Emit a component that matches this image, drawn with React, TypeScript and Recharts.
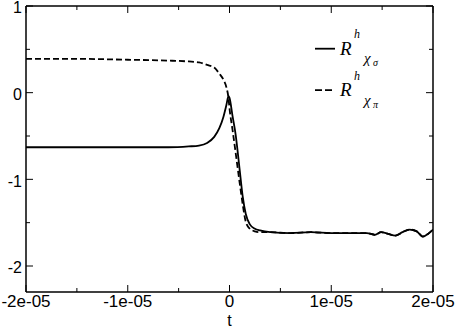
import React from "react";
import { LineChart, Line, XAxis, YAxis, Legend } from "recharts";

// time axis values (seconds)
const tValues = [
  -2e-5, -1.5e-5, -1e-5, -0.6e-5, -0.4e-5, -0.3e-5, -0.22e-5, -0.15e-5, -0.1e-5,
  -0.06e-5, -0.03e-5, -0.01e-5, 0, 0.03e-5, 0.06e-5, 0.1e-5, 0.13e-5, 0.16e-5,
  0.2e-5, 0.25e-5, 0.3e-5, 0.4e-5, 0.6e-5, 0.8e-5, 1e-5, 1.2e-5, 1.35e-5, 1.43e-5,
  1.49e-5, 1.56e-5, 1.63e-5, 1.7e-5, 1.77e-5, 1.84e-5, 1.9e-5, 1.95e-5, 2e-5,
];

// R^h chi_sigma (solid)
const chiSigma = [
  -0.63, -0.63, -0.63, -0.63, -0.62, -0.61, -0.58, -0.51, -0.41, -0.28, -0.14,
  -0.04, -0.06, -0.27, -0.48, -0.89, -1.2, -1.4, -1.52, -1.57, -1.59, -1.61, -1.62,
  -1.61, -1.62, -1.62, -1.62, -1.64, -1.61, -1.63, -1.65, -1.61, -1.58, -1.6,
  -1.66, -1.63, -1.58,
];

// R^h chi_pi (dashed)
const chiPi = [
  0.39, 0.39, 0.38, 0.37, 0.36, 0.35, 0.32, 0.29, 0.22, 0.15, 0.06, -0.06, -0.18,
  -0.43, -0.69, -1.04, -1.29, -1.49, -1.57, -1.6, -1.61, -1.61, -1.62, -1.61,
  -1.62, -1.62, -1.62, -1.64, -1.61, -1.63, -1.65, -1.61, -1.58, -1.6, -1.66,
  -1.63, -1.58,
];

const xTicks = [-2e-5, -1.5e-5, -1e-5, -0.5e-5, 0, 0.5e-5, 1e-5, 1.5e-5, 2e-5];
const yTicks = [-2, -1.5, -1, -0.5, 0, 0.5, 1];
const seriesKeys = ["sigma", "pi"];
const legendSubs = ["σ", "π"];

const data = tValues.map((t, i) => ({ t, sigma: chiSigma[i], pi: chiPi[i] }));

const isMajorX = (v: number) => Math.abs(v * 1e5 - Math.round(v * 1e5)) < 1e-6;
const isMajorY = (v: number) => Math.abs(v - Math.round(v)) < 1e-6;
const fmtX = (v: number) => (Math.abs(v) < 1e-12 ? "0" : `${Math.round(v * 1e5)}e-05`);

const font = "'Liberation Sans', Arial, Helvetica, sans-serif";
const serif = "'Liberation Serif', 'Times New Roman', serif";

function makeXTick(side: "bottom" | "top") {
  return (props: any) => {
    const { x, y, payload } = props;
    const major = isMajorX(payload.value);
    const len = major ? 7 : 4;
    const dir = side === "bottom" ? -1 : 1;
    return (
      <g>
        <line x1={x} x2={x} y1={y} y2={y + dir * len} stroke="#000" strokeWidth={1} />
        {side === "bottom" && major && (
          <text x={x} y={y + 15} textAnchor="middle" fontSize={17} fontFamily={font} fill="#000">
            {fmtX(payload.value)}
          </text>
        )}
      </g>
    );
  };
}

function makeYTick(side: "left" | "right") {
  return (props: any) => {
    const { x, y, payload } = props;
    const major = isMajorY(payload.value);
    const len = major ? 7 : 4;
    const dir = side === "left" ? 1 : -1;
    return (
      <g>
        <line x1={x} x2={x + dir * len} y1={y} y2={y} stroke="#000" strokeWidth={1} />
        {side === "left" && major && (
          <text x={x - 4} y={y} dy="0.45em" textAnchor="end" fontSize={16} fontFamily={font} fill="#000">
            {payload.value}
          </text>
        )}
      </g>
    );
  };
}

function renderLegend(props: any) {
  const payload = props.payload || [];
  return (
    <svg width={110} height={90}>
      {payload.map((entry: any) => {
        const i = Math.max(0, seriesKeys.indexOf(entry.dataKey));
        const oy = i * 41.5;
        const dash = entry.payload && entry.payload.strokeDasharray ? "7 3" : undefined;
        return (
          <g key={entry.dataKey} transform={`translate(0, ${oy})`}>
            <line x1={5} x2={25} y1={22.7} y2={22.7} stroke="#000" strokeWidth={1.8} strokeDasharray={dash} />
            <text x={30} y={28.7} fontFamily={serif} fontStyle="italic" fontSize={19} fill="#000">R</text>
            <text x={44} y={12} fontFamily={serif} fontStyle="italic" fontSize={12} fill="#000">h</text>
            <text x={54} y={37} fontFamily={serif} fontStyle="italic" fontSize={15} fill="#000">χ</text>
            <text x={63} y={40} fontFamily={serif} fontStyle="italic" fontSize={10} fill="#000">{legendSubs[i]}</text>
          </g>
        );
      })}
    </svg>
  );
}

export default function App() {
  return (
    <div style={{ position: "absolute", left: 0, top: 0, background: "#fff" }}>
      <LineChart
        width={456}
        height={327}
        data={data}
        margin={{ top: 5, right: 22, bottom: 0, left: 0 }}
      >
        <XAxis
          xAxisId="bottom"
          dataKey="t"
          type="number"
          domain={[-2e-5, 2e-5]}
          ticks={xTicks}
          interval={0}
          height={35}
          tickSize={0}
          tickMargin={0}
          tickLine={false}
          axisLine={{ stroke: "#000", strokeWidth: 1.5 }}
          tick={makeXTick("bottom")}
          allowDataOverflow
          label={{ value: "t", position: "insideBottom", offset: 1, fontSize: 16, fontFamily: font, fill: "#000" }}
        />
        <XAxis
          xAxisId="top"
          orientation="top"
          dataKey="t"
          type="number"
          domain={[-2e-5, 2e-5]}
          ticks={xTicks}
          interval={0}
          height={1}
          tickSize={0}
          tickMargin={0}
          tickLine={false}
          axisLine={{ stroke: "#000", strokeWidth: 1.5 }}
          tick={makeXTick("top")}
          allowDataOverflow
        />
        <YAxis
          yAxisId="left"
          type="number"
          domain={[-2.3, 1]}
          ticks={yTicks}
          interval={0}
          width={26}
          tickSize={0}
          tickMargin={0}
          tickLine={false}
          axisLine={{ stroke: "#000", strokeWidth: 1.5 }}
          tick={makeYTick("left")}
          allowDataOverflow
        />
        <YAxis
          yAxisId="right"
          orientation="right"
          type="number"
          domain={[-2.3, 1]}
          ticks={yTicks}
          interval={0}
          width={1}
          tickSize={0}
          tickMargin={0}
          tickLine={false}
          axisLine={{ stroke: "#000", strokeWidth: 1.5 }}
          tick={makeYTick("right")}
          allowDataOverflow
        />
        <Legend
          layout="horizontal"
          verticalAlign="middle"
          align="center"
          content={renderLegend}
          wrapperStyle={{ left: 310, top: 26, width: 110, height: 90 }}
        />
        <Line
          xAxisId="bottom"
          yAxisId="left"
          type="monotone"
          dataKey="sigma"
          name="sigma"
          stroke="#000"
          strokeWidth={1.8}
          dot={false}
          isAnimationActive={false}
        />
        <Line
          xAxisId="bottom"
          yAxisId="left"
          type="monotone"
          dataKey="pi"
          name="pi"
          stroke="#000"
          strokeWidth={1.8}
          strokeDasharray="6 3"
          dot={false}
          isAnimationActive={false}
        />
      </LineChart>
    </div>
  );
}
